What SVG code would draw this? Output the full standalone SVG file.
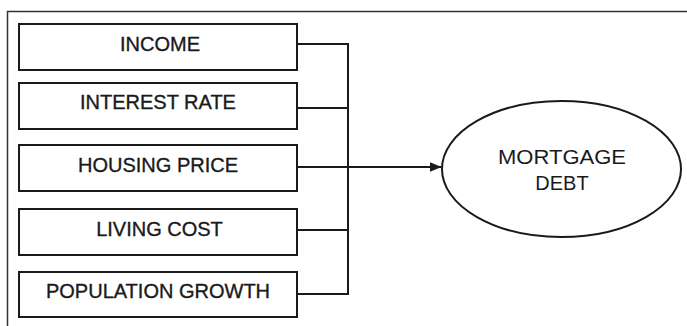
<svg xmlns="http://www.w3.org/2000/svg" width="687" height="326" viewBox="0 0 687 326">
<style>
.box{fill:#fff;stroke:#1a1a1a;stroke-width:2}
.lbl{font-family:"Liberation Sans",Arial,sans-serif;font-size:20px;fill:#1a1a1a;stroke:#1a1a1a;stroke-width:0.35;text-anchor:middle}
.ell{stroke:none}
.conn{fill:none;stroke:#1a1a1a;stroke-width:2}
.frame{fill:none;stroke:#333;stroke-width:1.5}
</style>
<defs>
<marker id="arr" viewBox="0 0 12 10" refX="12" refY="5" markerWidth="12" markerHeight="10" markerUnits="userSpaceOnUse" orient="auto">
<path d="M0,0 L12,5 L0,10 Z" fill="#1a1a1a"/>
</marker>
</defs>
<path class="frame" d="M7.5,326 V11.5 H687"/>
<g id="income"><rect class="box" x="19" y="24" width="278" height="46"/><text class="lbl" x="160" y="51">INCOME</text></g>
<g id="interest-rate"><rect class="box" x="19" y="83" width="278" height="46"/><text class="lbl" x="158" y="109">INTEREST RATE</text></g>
<g id="housing-price"><rect class="box" x="19" y="145" width="278" height="46"/><text class="lbl" x="158" y="172">HOUSING PRICE</text></g>
<g id="living-cost"><rect class="box" x="19" y="209" width="278" height="46"/><text class="lbl" x="159.5" y="236">LIVING COST</text></g>
<g id="population-growth"><rect class="box" x="19" y="272" width="278" height="45"/><text class="lbl" x="158" y="298">POPULATION GROWTH</text></g>
<g id="mortgage-debt"><ellipse class="box" cx="561.5" cy="169" rx="119.5" ry="68"/><text class="lbl ell" x="562" y="164" textLength="128" lengthAdjust="spacingAndGlyphs">MORTGAGE</text><text class="lbl ell" x="562" y="190">DEBT</text></g>
<g id="connectors">
<path class="conn" d="M297,44 H348 M297,108 H348 M297,167 H348 M297,230 H348 M297,294 H348 M348,43 V295"/>
<path class="conn" d="M348,167 H441.5" marker-end="url(#arr)"/>
</g>
</svg>
